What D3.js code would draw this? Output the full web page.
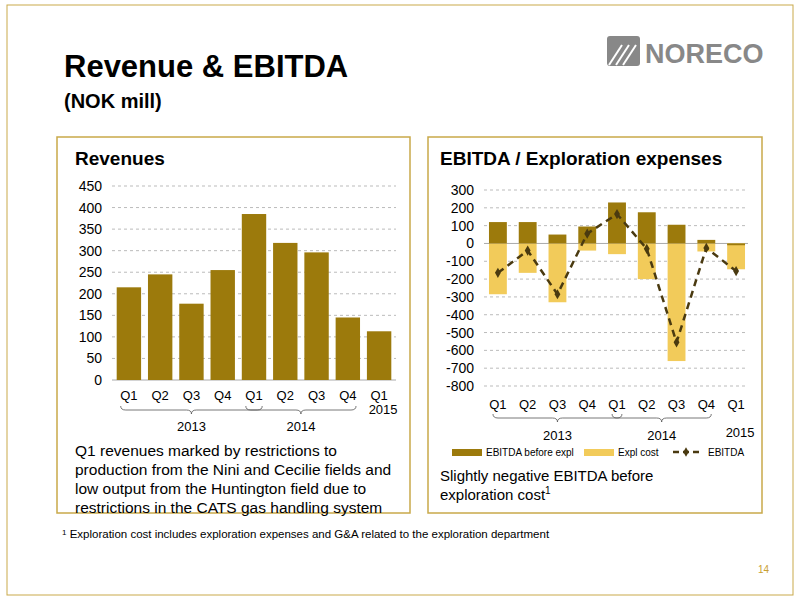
<!DOCTYPE html><html><head><meta charset="utf-8"><script src="https://cdn.jsdelivr.net/npm/d3@7"></script>
<style>body{margin:0;background:#fff}svg{font-family:Arial,"Liberation Sans",sans-serif}</style></head><body><svg id="s" width="800" height="600"></svg>
<script>
const quarters=["Q1","Q2","Q3","Q4","Q1","Q2","Q3","Q4","Q1"];
const years=[{label:"2013",from:0,to:4},{label:"2014",from:4,to:7},{label:"2015",from:8,to:8}];
const revenues=[215,245,177,255,385,318,296,145,113];
const revTicks=[0,50,100,150,200,250,300,350,400,450];
const ebitdaBefore=[120,120,50,95,230,175,105,20,-10];
const explCost=[-285,-165,-330,-40,-60,-200,-660,-45,-145];
const ebitda=[-165,-40,-285,55,165,-30,-555,-25,-155];
const ebTicks=[300,200,100,0,-100,-200,-300,-400,-500,-600,-700,-800];
const dark="#9c7a0c",light="#f2cb5a",gold="#c9a94a";
const svg=d3.select("#s");
svg.append("rect").attr("x",7).attr("y",5).attr("width",786).attr("height",590).attr("fill","none").attr("stroke",gold).attr("stroke-width",1);
svg.append("text").attr("x",64).attr("y",77).attr("font-size",31).attr("font-weight","bold").text("Revenue & EBITDA");
svg.append("text").attr("x",64).attr("y",108).attr("font-size",20).attr("font-weight","bold").text("(NOK mill)");
// logo
const lg=svg.append("g");
lg.append("rect").attr("x",607).attr("y",36).attr("width",33).attr("height",30).attr("rx",3).attr("fill","#888");
[0,7,14].forEach(o=>lg.append("line").attr("x1",609+o).attr("y1",65).attr("x2",622+o).attr("y2",45).attr("stroke","#fff").attr("stroke-width",2));
lg.append("text").attr("x",645).attr("y",63).attr("font-size",27).attr("font-weight","bold").attr("fill","#888").text("NORECO");
// panels
[[57,137,353,376],[428,137,334,376]].forEach(p=>svg.append("rect").attr("x",p[0]).attr("y",p[1]).attr("width",p[2]).attr("height",p[3]).attr("fill","none").attr("stroke",gold).attr("stroke-width",1.5));
svg.append("text").attr("x",75).attr("y",165).attr("font-size",19).attr("font-weight","bold").text("Revenues");
svg.append("text").attr("x",440).attr("y",165).attr("font-size",19).attr("font-weight","bold").text("EBITDA / Exploration expenses");

function xAxisStuff(x,yq,yb,yy,y15){
  quarters.forEach((q,i)=>svg.append("text").attr("x",x(i)+x.bandwidth()/2).attr("y",yq).attr("text-anchor","middle").attr("font-size",13).text(q));
  years.forEach(yr=>{
    const a=x(yr.from)+4,b=x(yr.to)+x.bandwidth()-4;
    if(yr.to>yr.from){const m=(a+b)/2;
      svg.append("path").attr("d",`M${a},${yb-4} q0,4 5,4 L${m-5},${yb} q5,0 5,4 q0,-4 5,-4 L${b-5},${yb} q5,0 5,-4`).attr("fill","none").attr("stroke","#555").attr("stroke-width",0.8);
      svg.append("text").attr("x",m).attr("y",yy).attr("text-anchor","middle").attr("font-size",13).text(yr.label);
    }else svg.append("text").attr("x",(a+b)/2+4).attr("y",y15).attr("text-anchor","middle").attr("font-size",13).text(yr.label);
  });
}
// left chart
{
const x=d3.scaleBand().domain(d3.range(9)).range([112,396]).paddingInner(0.22).paddingOuter(0.15);
const y=d3.scaleLinear().domain([0,450]).range([380,186]);
revTicks.forEach(t=>{svg.append("line").attr("x1",112).attr("x2",396).attr("y1",y(t)).attr("y2",y(t)).attr("stroke",t?"#bbb":"#aaa").attr("stroke-dasharray",t?"3,3":null);
 svg.append("text").attr("x",102).attr("y",y(t)+5).attr("text-anchor","end").attr("font-size",14).text(t);});
svg.selectAll(".rb").data(revenues).enter().append("rect").attr("x",(d,i)=>x(i)).attr("width",x.bandwidth()).attr("y",d=>y(d)).attr("height",d=>y(0)-y(d)).attr("fill",dark);
xAxisStuff(x,400,410,431,414);
}
["Q1 revenues marked by restrictions to","production from the Nini and Cecilie fields and","low output from the Huntington field due to","restrictions in the CATS gas handling system"].forEach((t,i)=>svg.append("text").attr("x",75).attr("y",456+i*19).attr("font-size",15.5).text(t));
// right chart
{
const x=d3.scaleBand().domain(d3.range(9)).range([486,748]).paddingInner(0.4).paddingOuter(0.1);
const y=d3.scaleLinear().domain([-800,300]).range([386,190]);
ebTicks.forEach(t=>{svg.append("line").attr("x1",484).attr("x2",748).attr("y1",y(t)).attr("y2",y(t)).attr("stroke",t?"#bbb":"#aaa").attr("stroke-dasharray",t?"3,3":null);
 svg.append("text").attr("x",474).attr("y",y(t)+5).attr("text-anchor","end").attr("font-size",14).text(t);});
svg.selectAll(".eb").data(explCost).enter().append("rect").attr("x",(d,i)=>x(i)).attr("width",x.bandwidth()).attr("y",d=>y(Math.max(0,d))).attr("height",d=>Math.abs(y(d)-y(0))).attr("fill",light);
svg.selectAll(".ea").data(ebitdaBefore).enter().append("rect").attr("x",(d,i)=>x(i)).attr("width",x.bandwidth()).attr("y",d=>y(Math.max(0,d))).attr("height",d=>Math.abs(y(d)-y(0))).attr("fill",dark);
const ln=d3.line().x((d,i)=>x(i)+x.bandwidth()/2).y(d=>y(d));
svg.append("path").attr("d",ln(ebitda)).attr("fill","none").attr("stroke","#4a3a10").attr("stroke-width",2.5).attr("stroke-dasharray","7,5");
svg.selectAll(".ep").data(ebitda).enter().append("path").attr("transform",(d,i)=>`translate(${x(i)+x.bandwidth()/2},${y(d)})`).attr("d",d3.symbol(d3.symbolDiamond,30)).attr("fill","#4a3a10");
xAxisStuff(x,409,418,440,437);
const L=svg.append("g").attr("font-size",10);
L.append("rect").attr("x",452).attr("y",449).attr("width",30).attr("height",7).attr("fill",dark);
L.append("text").attr("x",486).attr("y",456).text("EBITDA before expl");
L.append("rect").attr("x",584).attr("y",449).attr("width",30).attr("height",7).attr("fill",light);
L.append("text").attr("x",618).attr("y",456).text("Expl cost");
L.append("line").attr("x1",673).attr("x2",700).attr("y1",452).attr("y2",452).attr("stroke","#4a3a10").attr("stroke-width",2.5).attr("stroke-dasharray","6,4");
L.append("path").attr("transform","translate(686,452)").attr("d",d3.symbol(d3.symbolDiamond,25)).attr("fill","#4a3a10");
L.append("text").attr("x",708).attr("y",456).text("EBITDA");
}
svg.append("text").attr("x",440).attr("y",481).attr("font-size",15).text("Slightly negative EBITDA before");
const t2=svg.append("text").attr("x",440).attr("y",500).attr("font-size",15).text("exploration cost");
t2.append("tspan").attr("font-size",10).attr("dy",-6).text("1");
const fn=svg.append("text").attr("x",62).attr("y",538).attr("font-size",11.5);
fn.append("tspan").attr("font-size",8).attr("dy",-3).text("1");
fn.append("tspan").attr("dy",3).text(" Exploration cost includes exploration expenses and G&A related to the exploration department");
svg.append("text").attr("x",769).attr("y",573).attr("text-anchor","end").attr("font-size",10).attr("fill","#c9a030").text("14");
</script></body></html>
